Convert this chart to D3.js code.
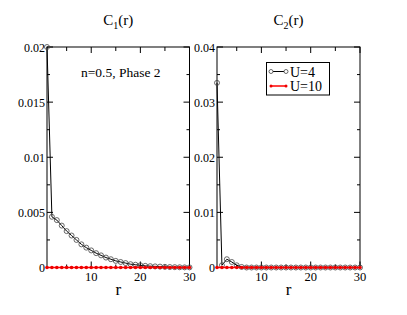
<!DOCTYPE html>
<html><head><meta charset="utf-8">
<script src="https://cdn.jsdelivr.net/npm/d3@7"></script>
<style>body{margin:0;background:#fff}svg{display:block}</style>
</head><body><svg id="c" width="407" height="315" font-family="Liberation Serif, DejaVu Serif, serif"></svg>
<script>
const r = d3.range(1, 31);
const c1U4 = [0.0200,0.0046,0.0043,0.0038,0.0033,0.0029,0.0025,0.0021,0.0018,0.00155,0.0013,0.0011,0.0009,0.00075,0.0006,0.0005,0.0004,0.0003,0.00025,0.0002,0.00015,0.00012,0.0001,0.00008,0.00006,0.00004,0.00003,0.00002,0.00001,0.00001];
const c1U10 = r.map(()=>0);
const c2U4 = [0.0335,0.0004,0.0015,0.0010,0.0004,0.0001,0,0,0,0,0,0,0,0,0,0,0,0,0,0,0,0,0,0,0,0,0,0,0,0];
const c2U10 = r.map(()=>0);
const xTicks = [10,20,30];
const y1Ticks = [0,0.005,0.01,0.015,0.02];
const y2Ticks = [0,0.01,0.02,0.03,0.04];
const legendLabels = ["U=4","U=10"];

const svg = d3.select("#c");
const plotTop = 47, plotBottom = 267.5;

function panel(x0, x1, yMax, yTicks, minorStep, s4, s10, sub) {
  const x = d3.scaleLinear().domain([1,30]).range([x0,x1]);
  const y = d3.scaleLinear().domain([0,yMax]).range([plotBottom,plotTop]);
  const g = svg.append("g");
  g.append("rect").attr("x",x0).attr("y",plotTop).attr("width",x1-x0).attr("height",plotBottom-plotTop)
    .attr("fill","none").attr("stroke","#000").attr("stroke-width",1);
  const xMin = [5,15,25];
  xTicks.forEach(t=>{
    g.append("line").attr("x1",x(t)).attr("x2",x(t)).attr("y1",plotBottom).attr("y2",plotBottom-6).attr("stroke","#000");
    g.append("line").attr("x1",x(t)).attr("x2",x(t)).attr("y1",plotTop).attr("y2",plotTop+6).attr("stroke","#000");
    g.append("text").attr("x",x(t)).attr("y",plotBottom+13).attr("text-anchor","middle").attr("font-size",12.5).text(t);
  });
  xMin.forEach(t=>{
    g.append("line").attr("x1",x(t)).attr("x2",x(t)).attr("y1",plotBottom).attr("y2",plotBottom-3).attr("stroke","#000");
    g.append("line").attr("x1",x(t)).attr("x2",x(t)).attr("y1",plotTop).attr("y2",plotTop+4).attr("stroke","#000");
  });
  yTicks.forEach(t=>{
    g.append("line").attr("x1",x0).attr("x2",x0+6).attr("y1",y(t)).attr("y2",y(t)).attr("stroke","#000");
    g.append("line").attr("x1",x1).attr("x2",x1-6).attr("y1",y(t)).attr("y2",y(t)).attr("stroke","#000");
    g.append("text").attr("x",x0-2).attr("y",y(t)+4.5).attr("text-anchor","end").attr("font-size",12).text(t);
  });
  for (let i=0;i<yTicks.length-1;i++){
    const t = yTicks[i]+minorStep;
    g.append("line").attr("x1",x0).attr("x2",x0+3).attr("y1",y(t)).attr("y2",y(t)).attr("stroke","#000");
    g.append("line").attr("x1",x1).attr("x2",x1-3).attr("y1",y(t)).attr("y2",y(t)).attr("stroke","#000");
  }
  const line = d3.line().x((d,i)=>x(r[i])).y(d=>y(d));
  g.append("path").datum(s4).attr("d",line).attr("fill","none").attr("stroke","#000").attr("stroke-width",1);
  g.selectAll(".c4").data(s4).join("circle").attr("cx",(d,i)=>x(r[i])).attr("cy",d=>y(d)).attr("r",2.5)
    .attr("fill","none").attr("stroke","#444").attr("stroke-width",0.8);
  g.append("path").datum(s10).attr("d",line).attr("fill","none").attr("stroke","#f00").attr("stroke-width",1.5);
  g.selectAll(".c10").data(s10).join("circle").attr("cx",(d,i)=>x(r[i])).attr("cy",d=>y(d)).attr("r",1.8)
    .attr("fill","#e00").attr("stroke","none");
  const tt = g.append("text").attr("x",(x0+x1)/2).attr("y",25).attr("text-anchor","middle").attr("font-size",15);
  tt.append("tspan").text("C");
  tt.append("tspan").attr("font-size",10).attr("dy",4).text(sub);
  tt.append("tspan").attr("dy",-4).text("(r)");
  g.append("text").attr("x",(x0+x1)/2).attr("y",295).attr("text-anchor","middle").attr("font-size",17).text("r");
  return {x,y};
}

panel(47, 189.5, 0.02, y1Ticks, 0.0025, c1U4, c1U10, "1");
panel(217, 360, 0.04, y2Ticks, 0.005, c2U4, c2U10, "2");

svg.append("text").attr("x",81).attr("y",77).attr("font-size",13.5).text("n=0.5, Phase 2");

const lg = svg.append("g");
lg.append("rect").attr("x",266.5).attr("y",62.5).attr("width",63).attr("height",32.5).attr("fill","#fff").attr("stroke","#000").attr("stroke-width",1);
const ly = [71.5, 86];
lg.append("line").attr("x1",271).attr("x2",286).attr("y1",ly[0]).attr("y2",ly[0]).attr("stroke","#000");
[271,286].forEach(cx=>lg.append("circle").attr("cx",cx).attr("cy",ly[0]).attr("r",2).attr("fill","#fff").attr("stroke","#444").attr("stroke-width",0.8));
lg.append("line").attr("x1",271).attr("x2",286).attr("y1",ly[1]).attr("y2",ly[1]).attr("stroke","#f00").attr("stroke-width",1.5);
[271,286].forEach(cx=>lg.append("circle").attr("cx",cx).attr("cy",ly[1]).attr("r",1.5).attr("fill","#e00"));
legendLabels.forEach((t,i)=>lg.append("text").attr("x",290).attr("y",ly[i]+5).attr("font-size",14).text(t));
</script></body></html>
